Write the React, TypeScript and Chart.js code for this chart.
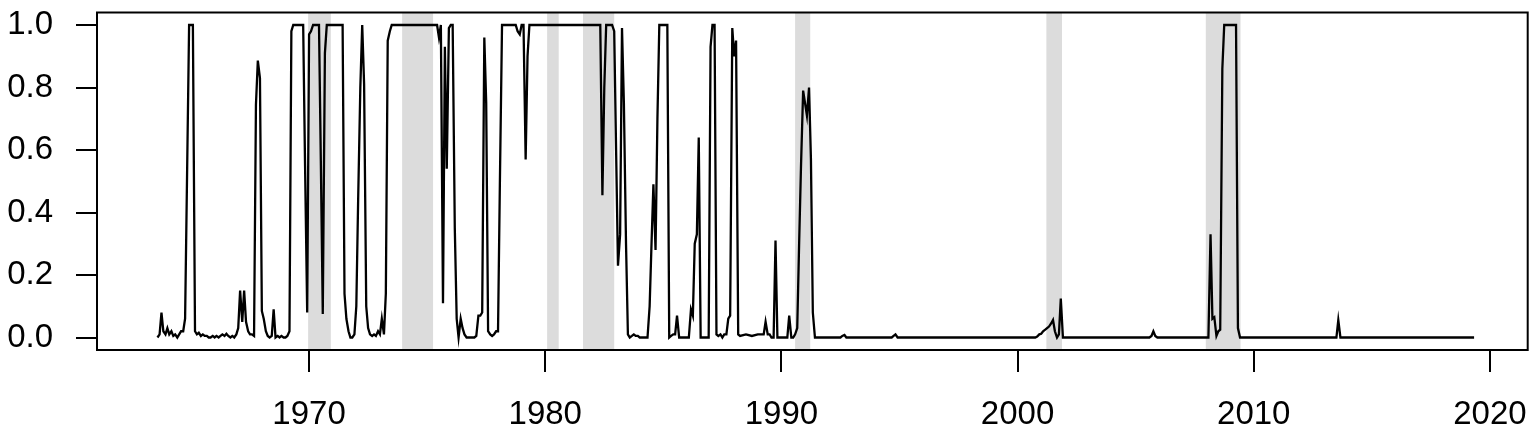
import React, { useEffect, useRef } from "react";
import { Chart, registerables } from "chart.js";

Chart.register(...registerables);

// Monthly dates (decimal years) at which the probability line has a vertex
const dates = [
  1963.58, 1963.67, 1963.75, 1963.83, 1963.92, 1964.0, 1964.08, 1964.17, 1964.25, 1964.33,
  1964.42, 1964.5, 1964.58, 1964.67, 1964.75, 1964.83, 1964.92, 1965.0, 1965.08, 1965.17,
  1965.25, 1965.33, 1965.42, 1965.5, 1965.58, 1965.67, 1965.75, 1965.83, 1965.92, 1966.0,
  1966.08, 1966.17, 1966.25, 1966.33, 1966.42, 1966.5, 1966.58, 1966.67, 1966.75, 1966.83,
  1966.92, 1967.0, 1967.08, 1967.17, 1967.25, 1967.33, 1967.42, 1967.5, 1967.58, 1967.67,
  1967.75, 1967.83, 1967.92, 1968.0, 1968.08, 1968.17, 1968.25, 1968.33, 1968.42, 1968.5,
  1968.58, 1968.67, 1968.75, 1968.83, 1968.92, 1969.0, 1969.08, 1969.17, 1969.25, 1969.33,
  1969.75, 1969.83, 1969.92, 1970.0, 1970.08, 1970.17, 1970.42, 1970.5, 1970.58, 1970.67,
  1970.75, 1971.42, 1971.5, 1971.58, 1971.67, 1971.75, 1971.83, 1971.92, 1972.0, 1972.08,
  1972.17, 1972.25, 1972.33, 1972.42, 1972.5, 1972.58, 1972.67, 1972.75, 1972.83, 1972.92,
  1973.0, 1973.08, 1973.17, 1973.25, 1973.33, 1973.42, 1973.5, 1975.42, 1975.5, 1975.58,
  1975.67, 1975.75, 1975.83, 1975.92, 1976.0, 1976.08, 1976.17, 1976.25, 1976.33, 1976.42,
  1976.5, 1976.58, 1976.67, 1976.75, 1976.83, 1976.92, 1977.0, 1977.08, 1977.17, 1977.25,
  1977.33, 1977.42, 1977.5, 1977.58, 1977.67, 1977.75, 1977.83, 1977.92, 1978.0, 1978.08,
  1978.17, 1978.75, 1978.83, 1978.92, 1979.0, 1979.08, 1979.17, 1979.25, 1979.33, 1982.33,
  1982.42, 1982.5, 1982.58, 1982.83, 1982.92, 1983.0, 1983.08, 1983.17, 1983.25, 1983.33,
  1983.42, 1983.5, 1983.58, 1983.67, 1983.75, 1983.83, 1983.92, 1984.0, 1984.33, 1984.42,
  1984.5, 1984.58, 1984.67, 1984.75, 1984.83, 1985.17, 1985.25, 1985.33, 1985.42, 1985.5,
  1985.58, 1985.67, 1986.08, 1986.17, 1986.25, 1986.33, 1986.42, 1986.5, 1986.58, 1986.92,
  1987.0, 1987.08, 1987.17, 1987.25, 1987.33, 1987.42, 1987.5, 1987.58, 1987.67, 1987.75,
  1987.83, 1987.92, 1988.0, 1988.08, 1988.17, 1988.25, 1988.5, 1988.75, 1989.0, 1989.25,
  1989.33, 1989.42, 1989.5, 1989.58, 1989.67, 1989.75, 1989.83, 1990.25, 1990.33, 1990.42,
  1990.5, 1990.58, 1990.67, 1990.75, 1990.83, 1990.92, 1991.0, 1991.08, 1991.17, 1991.25,
  1991.33, 1991.42, 1992.5, 1992.58, 1992.67, 1992.75, 1994.67, 1994.75, 1994.83, 1994.92,
  2000.75, 2000.83, 2000.92, 2001.0, 2001.08, 2001.17, 2001.25, 2001.33, 2001.42, 2001.5,
  2001.58, 2001.67, 2001.75, 2001.83, 2001.92, 2005.58, 2005.67, 2005.75, 2005.83, 2005.92,
  2008.0, 2008.08, 2008.17, 2008.25, 2008.33, 2008.42, 2008.5, 2008.58, 2008.67, 2008.75,
  2009.25, 2009.33, 2009.42, 2013.5, 2013.58, 2013.67, 2019.33,
];

// Smoothed recession probability at each date above
const probs = [
  0.0, 0.01, 0.08, 0.02, 0.01, 0.03, 0.01, 0.02, 0.005, 0.01,
  0.0, 0.01, 0.02, 0.02, 0.06, 0.5, 1.0, 1.0, 1.0, 0.02,
  0.01, 0.015, 0.005, 0.01, 0.005, 0.005, 0.0, 0.0, 0.005, 0.0,
  0.005, 0.0, 0.005, 0.01, 0.005, 0.012, 0.005, 0.0, 0.005, 0.0,
  0.01, 0.03, 0.15, 0.05, 0.15, 0.05, 0.02, 0.01, 0.01, 0.005,
  0.745, 0.886, 0.83, 0.085, 0.06, 0.02, 0.005, 0.0, 0.005, 0.09,
  0.0, 0.005, 0.0, 0.005, 0.0, 0.0, 0.005, 0.02, 0.98, 1.0,
  1.0, 0.55, 0.08, 0.97, 0.98, 1.0, 1.0, 0.55, 0.075, 0.91,
  1.0, 1.0, 0.14, 0.06, 0.02, 0.0, 0.0, 0.01, 0.1, 0.45,
  0.8, 1.0, 0.81, 0.1, 0.03, 0.01, 0.005, 0.01, 0.005, 0.02,
  0.01, 0.06, 0.01, 0.14, 0.95, 0.98, 1.0, 1.0, 0.96, 1.0,
  0.11, 0.93, 0.54, 0.99, 1.0, 1.0, 0.35, 0.06, 0.0, 0.06,
  0.03, 0.01, 0.0, 0.0, 0.0, 0.0, 0.0, 0.005, 0.07, 0.07,
  0.08, 0.96, 0.75, 0.02, 0.01, 0.005, 0.01, 0.02, 0.02, 0.5,
  1.0, 1.0, 0.98, 0.97, 1.0, 1.0, 0.57, 0.9, 1.0, 1.0,
  0.455, 0.8, 1.0, 1.0, 0.98, 0.6, 0.23, 0.33, 0.99, 0.75,
  0.3, 0.01, 0.0, 0.005, 0.01, 0.005, 0.005, 0.0, 0.0, 0.1,
  0.3, 0.49, 0.28, 0.7, 1.0, 1.0, 0.0, 0.005, 0.01, 0.01,
  0.07, 0.0, 0.0, 0.09, 0.07, 0.3, 0.33, 0.64, 0.0, 0.0,
  0.93, 1.0, 1.0, 0.01, 0.005, 0.01, 0.0, 0.01, 0.01, 0.06,
  0.07, 0.99, 0.9, 0.95, 0.01, 0.005, 0.01, 0.005, 0.01, 0.01,
  0.05, 0.01, 0.01, 0.0, 0.0, 0.31, 0.0, 0.0, 0.07, 0.0,
  0.0, 0.01, 0.03, 0.3, 0.55, 0.79, 0.75, 0.71, 0.8, 0.57,
  0.08, 0.0, 0.0, 0.005, 0.008, 0.0, 0.0, 0.005, 0.01, 0.0,
  0.0, 0.003, 0.01, 0.012, 0.02, 0.025, 0.03, 0.035, 0.045, 0.056,
  0.02, 0.0, 0.01, 0.125, 0.0, 0.0, 0.005, 0.02, 0.005, 0.0,
  0.0, 0.0, 0.33, 0.06, 0.065, 0.005, 0.02, 0.025, 0.86, 1.0,
  1.0, 0.03, 0.0, 0.0, 0.056, 0.0, 0.0,
];

// NBER recession periods (shaded)
const recessionStart = [1969.96, 1973.94, 1980.08, 1981.6, 1990.58, 2001.22, 2007.97];
const recessionEnd = [1970.92, 1975.25, 1980.57, 1982.92, 1991.22, 2001.88, 2009.44];

const yTicks = [0, 0.2, 0.4, 0.6, 0.8, 1.0];
const xTicks = [1970, 1980, 1990, 2000, 2010, 2020];

const FONT = "'Liberation Sans', Arial, Helvetica, sans-serif";

const bandsPlugin = {
  id: "recessionBands",
  beforeDatasetsDraw(chart: any) {
    const { ctx, chartArea, scales } = chart;
    const x = scales.x;
    ctx.save();
    ctx.fillStyle = "rgb(220,220,220)";
    recessionStart.forEach((s, i) => {
      const x0 = x.getPixelForValue(s);
      const x1 = x.getPixelForValue(recessionEnd[i]);
      ctx.fillRect(x0, chartArea.top, x1 - x0, chartArea.bottom - chartArea.top);
    });
    ctx.restore();
  },
};

const boxPlugin = {
  id: "plotBox",
  afterDatasetsDraw(chart: any) {
    const { ctx, chartArea } = chart;
    ctx.save();
    ctx.strokeStyle = "#000";
    ctx.lineWidth = 2;
    ctx.strokeRect(
      chartArea.left,
      chartArea.top,
      chartArea.right - chartArea.left,
      chartArea.bottom - chartArea.top
    );
    ctx.restore();
  },
};

export default function App() {
  const ref = useRef<HTMLCanvasElement | null>(null);

  useEffect(() => {
    if (!ref.current) return;
    const points = dates.map((d, i) => ({ x: d, y: probs[i] }));
    const chart = new Chart(ref.current, {
      type: "line",
      data: {
        datasets: [
          {
            data: points,
            borderColor: "#000",
            borderWidth: 2.3,
            pointRadius: 0,
            tension: 0,
            fill: false,
          },
        ],
      },
      options: {
        responsive: false,
        animation: false,
        devicePixelRatio: 1,
        layout: { padding: { left: 0, top: 12.5, right: 12.3, bottom: 0 } },
        plugins: {
          legend: { display: false },
          tooltip: { enabled: false },
        },
        scales: {
          x: {
            type: "linear",
            min: 1961.02,
            max: 2021.6,
            afterBuildTicks: (scale: any) => {
              scale.ticks = xTicks.map((v) => ({ value: v }));
            },
            afterFit: (scale: any) => {
              scale.height = 90;
              scale.paddingLeft = 0;
              scale.paddingRight = 0;
            },
            border: { display: false },
            grid: {
              drawOnChartArea: false,
              drawTicks: true,
              tickLength: 22,
              color: "#000",
              lineWidth: 2,
            },
            ticks: {
              autoSkip: false,
              maxRotation: 0,
              minRotation: 0,
              padding: 23,
              color: "#000",
              font: { family: FONT, size: 33 },
              callback: (v: any) => String(v),
            },
          },
          y: {
            type: "linear",
            min: -0.04,
            max: 1.04,
            afterBuildTicks: (scale: any) => {
              scale.ticks = yTicks.map((v) => ({ value: v }));
            },
            afterFit: (scale: any) => {
              scale.width = 97;
              scale.paddingTop = 0;
              scale.paddingBottom = 0;
            },
            border: { display: false },
            grid: {
              drawOnChartArea: false,
              drawTicks: true,
              tickLength: 21,
              color: "#000",
              lineWidth: 2,
            },
            ticks: {
              padding: 23,
              color: "#000",
              font: { family: FONT, size: 33 },
              callback: (v: any) => Number(v).toFixed(1),
            },
          },
        },
      },
      plugins: [bandsPlugin, boxPlugin],
    });
    return () => chart.destroy();
  }, []);

  return (
    <div style={{ position: "absolute", left: 0, top: 0, width: 1540, height: 440, background: "#fff" }}>
      <canvas ref={ref} width={1540} height={440} style={{ display: "block" }} />
    </div>
  );
}
